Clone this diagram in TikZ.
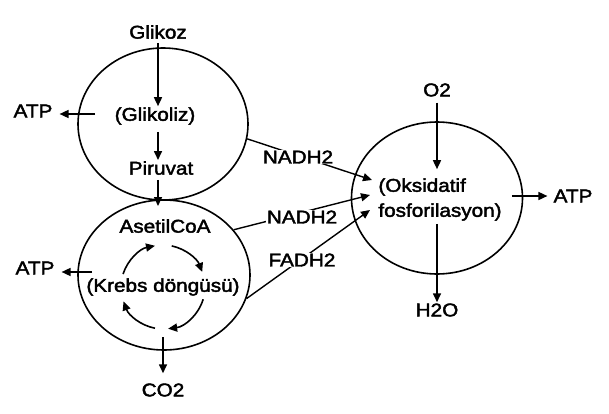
\documentclass[tikz,border=0pt]{standalone}
\usepackage{fontspec}
\setmainfont{Liberation Sans}[FakeStretch=1.12,FakeBold=2.2]
\usetikzlibrary{shapes.geometric,arrows.meta}
\begin{document}
\begin{tikzpicture}[x=1pt,y=1pt,
  lbl/.style={inner sep=1pt,font=\fontsize{18.5}{25}\selectfont},
  wlbl/.style={lbl,fill=white},
  cell/.style={draw,ellipse,line width=1.6pt,inner sep=0pt},
  arr/.style={line width=1.6pt,-{Triangle[length=9pt,width=8pt]}},
  ln/.style={line width=1.4pt}]
\useasboundingbox (0,0) rectangle (609,413);
% cells
\node[cell,minimum width=170pt,minimum height=152pt] (e1) at (163,289) {};
\node[cell,minimum width=172pt,minimum height=150pt] (e2) at (164,138) {};
\node[cell,minimum width=171pt,minimum height=152pt] (e3) at (437,215) {};
% texts
\node[lbl] (glikoz) at (158,381) {Glikoz};
\node[lbl] (glikoliz) at (155,297) {(Glikoliz)};
\node[lbl] (piruvat) at (161,245) {Piruvat};
\node[lbl] (asetil) at (165,187) {AsetilCoA};
\node[lbl] (krebs) at (163,126) {(Krebs döngüsü)};
\node[lbl] (co2) at (163,23) {CO2};
\node[lbl] (atp1) at (33,302) {ATP};
\node[lbl] (atp2) at (35,145) {ATP};
\node[lbl] (o2) at (437,323) {O2};
\node[lbl,align=left] (oks) at (440,213.5) {(Oksidatif\\fosforilasyon)};
\node[lbl] (h2o) at (437,103) {H2O};
\node[lbl] (atp3) at (573,217) {ATP};
% free ends
\coordinate (a1s) at (95,299);
\coordinate (a2s) at (92,141);
\coordinate (co2s) at (163,76);
\coordinate (cyc) at (163,126);
\coordinate (t1) at (372,233);
\coordinate (t2) at (370,218);
\coordinate (t3) at (370,203);
% vertical flow
\draw[arr,shorten <=3pt] (glikoz.south) -- (glikoz.south |- glikoliz.north);
\draw[arr,shorten <=6pt] (glikoz.south |- glikoliz.south) -- (glikoz.south |- piruvat.north);
\draw[arr,shorten <=4pt,shorten >=12pt] (glikoz.south |- piruvat.south) -- (glikoz.south |- asetil.north);
\draw[arr,shorten >=9pt] (co2s) -- (co2);
\draw[arr,shorten <=5pt,shorten >=8pt] (o2.south) -- (o2.south |- oks.north);
\draw[arr,shorten <=2pt] (o2.south |- oks.south) -- (h2o.north);
\draw[arr,shorten <=9pt,shorten >=5pt] (oks.east |- atp3.west) -- (atp3.west);
\draw[arr,shorten >=6pt] (a1s) -- (atp1.east |- a1s);
\draw[arr,shorten >=6pt] (a2s) -- (atp2.east |- a2s);
% Krebs cycle arrows
\draw[arr] ([shift={(162:42)}]cyc) arc[start angle=162,end angle=101,radius=42];
\draw[arr] ([shift={(78:42)}]cyc) arc[start angle=78,end angle=21,radius=42];
\draw[arr] ([shift={(-17:42)}]cyc) arc[start angle=-17,end angle=-83,radius=42];
\draw[arr] ([shift={(-101:42)}]cyc) arc[start angle=-101,end angle=-160,radius=42];
% electron carriers
\draw[ln,-{Triangle[length=9pt,width=8pt]}] (e1.-10) -- (t1);
\draw[ln,-{Triangle[length=9pt,width=8pt]}] (e2.33) -- (t2);
\draw[ln,-{Triangle[length=9pt,width=8pt]}] (e2.-16) -- (t3);
\node[wlbl] (n1) at (298,256) {NADH2};
\node[wlbl] (n2) at (302,196) {NADH2};
\node[wlbl] (fadh) at (302,153) {FADH2};
\end{tikzpicture}
\end{document}
